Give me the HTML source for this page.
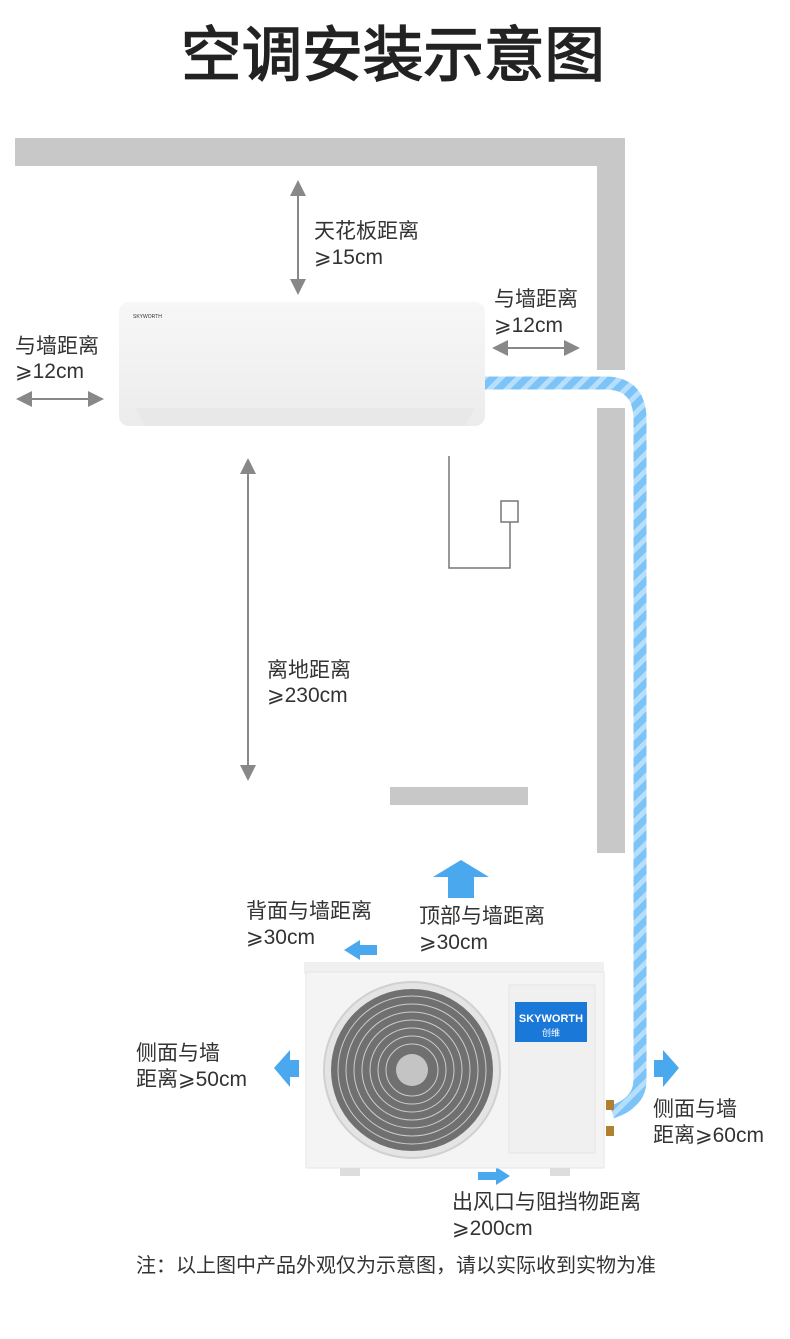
<!DOCTYPE html>
<html><head><meta charset="utf-8"><style>
body{margin:0;background:#fff;}
svg text{font-family:"Liberation Sans","Noto Sans CJK SC",sans-serif;fill:#333;}
</style></head><body>
<svg width="790" height="1334" viewBox="0 0 790 1334" xmlns="http://www.w3.org/2000/svg">
<defs>
<pattern id="h" width="12" height="12" patternUnits="userSpaceOnUse" patternTransform="rotate(45)">
<rect width="12" height="12" fill="#fff"/><rect width="7" height="12" fill="#7cc4f8"/></pattern>
<marker id="a" markerWidth="8" markerHeight="8" refX="4" refY="4" orient="auto-start-reverse"><path d="M0,0 L8,4 L0,8z" fill="#888"/></marker>
<linearGradient id="g" x1="0" y1="0" x2="0" y2="1"><stop offset="0" stop-color="#f7f7f7"/><stop offset="1" stop-color="#ececec"/></linearGradient>
</defs>
<text x="393" y="76" font-size="60" text-anchor="middle" style="fill:#222;stroke:#222;stroke-width:1.5" textLength="424" lengthAdjust="spacingAndGlyphs">空调安装示意图</text>
<!-- walls -->
<rect x="15" y="138" width="610" height="28" fill="#c8c8c8"/>
<rect x="597" y="138" width="28" height="232" fill="#c8c8c8"/>
<rect x="597" y="408" width="28" height="445" fill="#c8c8c8"/>
<rect x="390" y="787" width="138" height="18" fill="#c8c8c8"/>
<!-- pipe -->
<path d="M485,383 L605,383 Q640,383 640,420 L640,1080 Q640,1103 612,1112" fill="none" stroke="url(#h)" stroke-width="13"/>
<path d="M485,383 L605,383 Q640,383 640,420 L640,1080 Q640,1103 612,1112" fill="none" stroke="#7cc4f8" stroke-width="13" opacity="0.55"/>
<!-- indoor unit -->
<rect x="119" y="302" width="366" height="124" rx="10" fill="url(#g)"/>
<path d="M135,408 L475,408 L465,426 L145,426z" fill="#e8e8e8"/>
<text x="133" y="318" font-size="5" fill="#999">SKYWORTH</text>
<!-- drain -->
<path d="M449,456 V568 H510 V522" fill="none" stroke="#777" stroke-width="1.5"/>
<rect x="501" y="501" width="17" height="21" fill="#fff" stroke="#777" stroke-width="1.5"/>
<!-- arrows -->
<line x1="298" y1="188" x2="298" y2="287" stroke="#888" stroke-width="2" marker-start="url(#a)" marker-end="url(#a)"/>
<line x1="24" y1="399" x2="96" y2="399" stroke="#888" stroke-width="2" marker-start="url(#a)" marker-end="url(#a)"/>
<line x1="500" y1="348" x2="572" y2="348" stroke="#888" stroke-width="2" marker-start="url(#a)" marker-end="url(#a)"/>
<line x1="248" y1="466" x2="248" y2="773" stroke="#888" stroke-width="2" marker-start="url(#a)" marker-end="url(#a)"/>
<g font-size="21">
<text x="314" y="238">天花板距离</text><text x="314" y="264">⩾15cm</text>
<text x="494" y="306">与墙距离</text><text x="494" y="332">⩾12cm</text>
<text x="15" y="353">与墙距离</text><text x="15" y="378">⩾12cm</text>
<text x="267" y="677">离地距离</text><text x="267" y="702">⩾230cm</text>
<text x="246" y="918">背面与墙距离</text><text x="246" y="944">⩾30cm</text>
<text x="419" y="923">顶部与墙距离</text><text x="419" y="949">⩾30cm</text>
<text x="136" y="1060">侧面与墙</text><text x="136" y="1086">距离⩾50cm</text>
<text x="653" y="1116">侧面与墙</text><text x="653" y="1142">距离⩾60cm</text>
<text x="452" y="1209">出风口与阻挡物距离</text><text x="452" y="1235">⩾200cm</text>
<text x="136" y="1272" font-size="20">注：以上图中产品外观仅为示意图，请以实际收到实物为准</text>
</g>
<!-- blue arrows -->
<g fill="#4aa8ee">
<path d="M433,877 L461,860 L489,877 L474,877 L474,898 L448,898 L448,877z"/>
<path d="M344,950 L360,940 L360,945 L377,945 L377,955 L360,955 L360,960z"/>
<path d="M274,1068 L290,1050 L290,1060 L299,1060 L299,1077 L290,1077 L290,1087z"/>
<path d="M679,1068 L663,1050 L663,1060 L654,1060 L654,1077 L663,1077 L663,1087z"/>
<path d="M478,1172 L496,1172 L496,1167 L510,1176 L496,1185 L496,1180 L478,1180z"/>
</g>
<!-- outdoor unit -->
<rect x="304" y="962" width="300" height="12" fill="#f0f0f0"/>
<rect x="306" y="972" width="298" height="196" fill="#f4f4f4" stroke="#e6e6e6"/>
<rect x="509" y="985" width="86" height="168" fill="#f0f0f0" stroke="#e4e4e4"/>
<rect x="515" y="1002" width="72" height="40" fill="#1a78d8"/>
<text x="551" y="1022" font-size="11" text-anchor="middle" font-weight="bold" style="fill:#fff">SKYWORTH</text>
<text x="551" y="1036" font-size="9" text-anchor="middle" style="fill:#fff">创维</text>
<circle cx="412" cy="1070" r="88" fill="#e4e4e4" stroke="#d0d0d0" stroke-width="2"/>
<circle cx="412" cy="1070" r="81" fill="#707070"/>
<g fill="none" stroke="#ccc" stroke-width="1">
<circle cx="412" cy="1070" r="74"/><circle cx="412" cy="1070" r="66"/><circle cx="412" cy="1070" r="58"/><circle cx="412" cy="1070" r="50"/><circle cx="412" cy="1070" r="42"/><circle cx="412" cy="1070" r="34"/><circle cx="412" cy="1070" r="26"/>
</g>
<circle cx="412" cy="1070" r="16" fill="#c4c4c4"/>
<rect x="340" y="1168" width="20" height="8" fill="#ddd"/>
<rect x="550" y="1168" width="20" height="8" fill="#ddd"/>
<rect x="606" y="1100" width="8" height="10" fill="#b08030"/>
<rect x="606" y="1126" width="8" height="10" fill="#b08030"/>
</svg>
</body></html>
